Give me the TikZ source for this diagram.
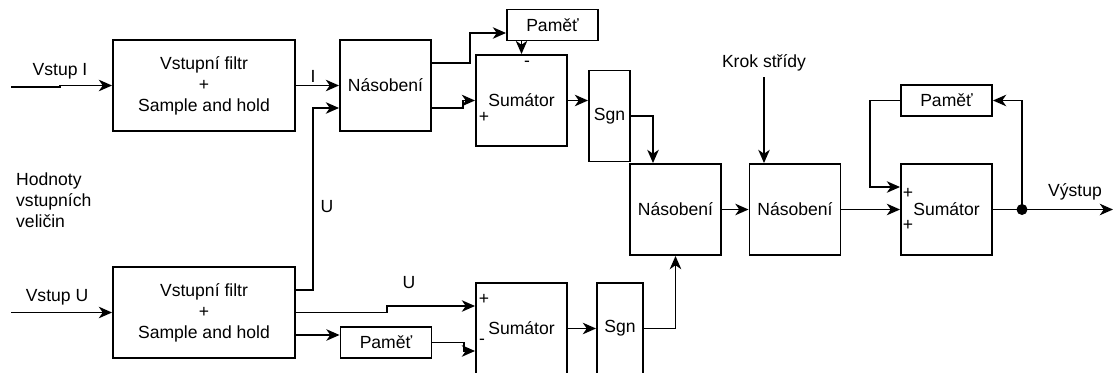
\documentclass[tikz,border=0pt]{standalone}
\usepackage{fontspec}
\setmainfont{Liberation Sans}
\usepackage{tikz}
\usetikzlibrary{shapes,arrows,positioning,calc,arrows.meta}
\tikzstyle{arrow} = [-{Stealth[length=7.5pt,width=6.5pt,inset=2.2pt]}, line width=1.1pt]
\tikzstyle{block} = [rectangle, draw, line width=1.1pt, inner sep=0pt, align=center]
\tikzstyle{filterbox} = [block, minimum width=3.64cm, minimum height=1.82cm]
\tikzstyle{squarebox} = [block, minimum width=1.82cm, minimum height=1.82cm]
\tikzstyle{memorybox} = [block, minimum width=1.82cm, minimum height=0.62cm]
\tikzstyle{sign} = [inner sep=0pt]

\begin{document}
\begin{tikzpicture}[x=0.02cm, y=-0.02cm]
    \useasboundingbox (0,0) rectangle (1116,372);
    \clip (0,0) rectangle (1116,372);

    % Input filters
    \node[filterbox] (filtI) at (204,85.5) {Vstupní filtr\\+\\Sample and hold};
    \node[filterbox] (filtU) at (204,312.5) {Vstupní filtr\\+\\Sample and hold};
    \node (lblVstupI) at (60,71) {Vstup I};
    \node (lblVstupU) at (57,297) {Vstup U};
    \node[align=left, anchor=west] (lblHodnoty) at (10,200) {Hodnoty\\vstupních\\veličin};
    \coordinate (inI) at (11,87);
    \coordinate (inU) at (11,312.5);

    % Power branch
    \node[squarebox] (nasA) at (385.5,85.5) {Násobení};
    \node[memorybox] (pamA) at (552.5,25) {Paměť};
    \node[squarebox] (sumA) at (521.5,100.5) {Sumátor};
    \node[block, minimum width=0.82cm, minimum height=1.82cm] (sgnA) at (609.5,116) {Sgn};
    \node[sign] (sumAminus) at (527,64) {-};
    \node[sign] (sumAplus) at (484,117) {+};
    \node (lblI) at (313,76) {I};
    \node (lblUa) at (327,207) {U};

    % Voltage branch
    \node[memorybox] (pamB) at (386,342.5) {Paměť};
    \node[squarebox] (sumB) at (521.5,328.5) {Sumátor};
    \node[block, minimum width=0.92cm, minimum height=1.82cm] (sgnB) at (620,328.5) {Sgn};
    \node[sign] (sumBplus) at (484,299) {+};
    \node[sign] (sumBminus) at (482,342) {-};
    \node (lblUb) at (409,283) {U};

    % Step and integrator
    \node[squarebox] (nasB) at (675.5,209.5) {Násobení};
    \node[squarebox] (nasC) at (795,209.5) {Násobení};
    \node (lblKrok) at (764,63) {Krok střídy};
    \node[squarebox] (sumC) at (946.5,209.5) {Sumátor};
    \node[memorybox] (pamC) at (946.5,100.5) {Paměť};
    \node[sign] (sumCplusA) at (908,193) {+};
    \node[sign] (sumCplusB) at (908,225) {+};
    \node (lblVystup) at (1075,192) {Výstup};
    \coordinate (tap) at (1022,209.5);
    \coordinate (out) at (1113,209.5);

    % Connections
    \draw[arrow] (inI) -- ++(49,0) |- (filtI.west);
    \draw[arrow] (inU) -- (filtU.west);
    \draw[arrow] (filtI.east) -- (nasA.west);
    \draw[arrow] ([yshift=0.45cm]filtU.east) -- ++(17,0) |- ([yshift=-0.45cm]nasA.west);
    \draw[arrow] ([yshift=0.45cm]nasA.east) -- ++(38,0) |- ([yshift=-0.16cm]pamA.west);
    \draw[arrow] (pamA.south -| sumA.north) -- (sumA.north);
    \draw[arrow] ([yshift=-0.45cm]nasA.east) -- ++(31,0) |- (sumA.west);
    \draw[arrow] (sumA.east) -- (sumA.east -| sgnA.west);
    \draw[arrow] (sgnA.east) -| ([xshift=-0.45cm]nasB.north);
    \draw[arrow] (filtU.east) -- ++(91,0) |- ([yshift=0.45cm]sumB.west);
    \draw[arrow] ([yshift=-0.45cm]filtU.east) -- ([yshift=-0.45cm]filtU.east -| pamB.west);
    \draw[arrow] (pamB.east) -- ++(32,0) |- ([yshift=-0.45cm]sumB.west);
    \draw[arrow] (sumB.east) -- (sgnB.west);
    \draw[arrow] (sgnB.east) -| (nasB.south);
    \draw[arrow] (nasB.east) -- (nasC.west);
    \draw[arrow] (lblKrok.south) -- (lblKrok.south |- nasC.north);
    \draw[arrow] (nasC.east) -- (sumC.west);
    \draw[arrow] (sumC.east) -- (out);
    \fill (tap) circle (0.11cm);
    \draw[arrow] (tap) |- (pamC.east);
    \draw[arrow] (pamC.west) -- ++(-30,0) |- ([yshift=0.45cm]sumC.west);
\end{tikzpicture}
\end{document}
